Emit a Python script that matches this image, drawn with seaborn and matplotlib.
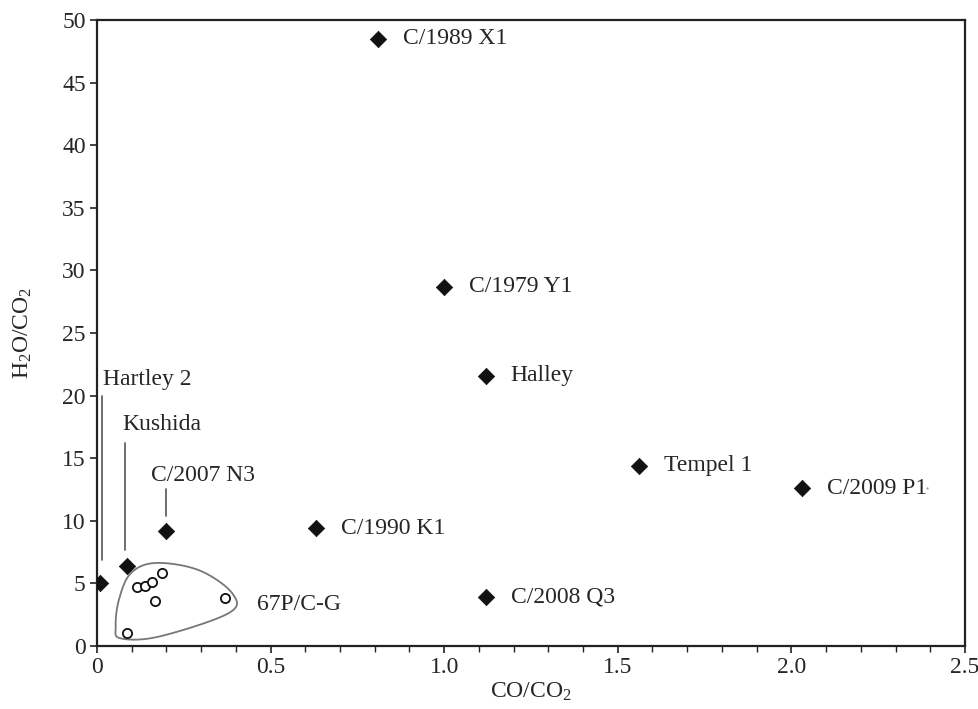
import numpy as np
import pandas as pd
import matplotlib
matplotlib.use("Agg")
import matplotlib.pyplot as plt
from matplotlib.ticker import MultipleLocator, FuncFormatter
from matplotlib.path import Path
from matplotlib.patches import PathPatch
import seaborn as sns

# comets with ratios (diamonds)
comets = ["C/1989 X1", "C/1979 Y1", "Halley", "Tempel 1", "C/2009 P1",
          "C/1990 K1", "C/2008 Q3", "C/2007 N3", "Kushida", "Hartley 2"]
co_co2 = [0.81, 1.00, 1.12, 1.56, 2.03, 0.63, 1.12, 0.20, 0.087, 0.01]
h2o_co2 = [48.5, 28.7, 21.6, 14.4, 12.6, 9.4, 3.9, 9.2, 6.4, 5.0]

# 67P/C-G measurements (open circles)
rosetta_co = [0.116, 0.138, 0.159, 0.188, 0.167, 0.368, 0.087]
rosetta_h2o = [4.7, 4.8, 5.1, 5.8, 3.6, 3.8, 1.05]

# outline drawn round the 67P group
hull_x = [0.097, 0.169, 0.294, 0.390, 0.380, 0.179, 0.068, 0.054, 0.063]
hull_y = [5.79, 6.63, 6.05, 4.20, 2.63, 0.75, 0.61, 1.54, 3.66]

sns.set_style("ticks")
plt.rcParams['font.family'] = ['Liberation Serif', 'DejaVu Serif']
plt.rcParams['mathtext.fontset'] = 'custom'
plt.rcParams['mathtext.rm'] = 'Liberation Serif'
plt.rcParams['mathtext.it'] = 'Liberation Serif:italic'

df = pd.DataFrame({"comet": comets, "co": co_co2, "h2o": h2o_co2})
df67 = pd.DataFrame({"co": rosetta_co, "h2o": rosetta_h2o})

fig = plt.figure(figsize=(9.79, 7.09), dpi=100)
ax = fig.add_axes([0.099, 0.0889, 0.8867, 0.8829])

sns.scatterplot(data=df, x="co", y="h2o", marker="D", s=70, color="#111111",
                edgecolor="#111111", linewidth=0.5, ax=ax, zorder=3)
sns.scatterplot(data=df67, x="co", y="h2o", marker="o", s=44, facecolor="white",
                edgecolor="#111111", linewidth=1.3, ax=ax, zorder=3)


# smooth closed curve (periodic Catmull-Rom)
def closed_curve(xs, ys, n=30):
    pts = np.column_stack([xs, ys])
    m = len(pts)
    out = []
    for i in range(m):
        p0, p1, p2, p3 = pts[i - 1], pts[i], pts[(i + 1) % m], pts[(i + 2) % m]
        for t in np.linspace(0, 1, n, endpoint=False):
            t2, t3 = t * t, t * t * t
            out.append(0.5 * ((2 * p1) + (-p0 + p2) * t + (2 * p0 - 5 * p1 + 4 * p2 - p3) * t2
                              + (-p0 + 3 * p1 - 3 * p2 + p3) * t3))
    out.append(out[0])
    return np.array(out)


curve = closed_curve(hull_x, hull_y)
ax.add_patch(PathPatch(Path(curve), facecolor="none", edgecolor="#777777", lw=1.3, zorder=2))

# point labels
fs = 17
for name, x, y in zip(comets, co_co2, h2o_co2):
    if name in ("C/2007 N3", "Kushida", "Hartley 2"):
        continue
    ax.annotate(name, (x, y), xytext=(18, 0), textcoords="offset points",
                va="center", ha="left", fontsize=fs)

# leader lines
ax.plot([0.015, 0.015], [6.85, 20.0], color="#555555", lw=1.2)
ax.plot([0.080, 0.080], [7.7, 16.2], color="#555555", lw=1.2)
ax.plot([0.20, 0.20], [10.4, 12.55], color="#555555", lw=1.2)
ax.text(0.017, 21.3, "Hartley 2", fontsize=fs, va="center", ha="left")
ax.text(0.072, 17.7, "Kushida", fontsize=fs, va="center", ha="left")
ax.text(0.156, 13.6, "C/2007 N3", fontsize=fs, va="center", ha="left")
ax.text(0.46, 3.3, "67P/C-G", fontsize=fs, va="center", ha="left")
ax.plot([2.39], [12.6], marker=".", ms=1.5, color="#aaaaaa")

ax.set_xlim(0, 2.5)
ax.set_ylim(0, 50)
ax.xaxis.set_major_locator(MultipleLocator(0.5))
ax.xaxis.set_minor_locator(MultipleLocator(0.1))
ax.yaxis.set_major_locator(MultipleLocator(5))
ax.xaxis.set_major_formatter(FuncFormatter(lambda v, p: "0" if v == 0 else f"{v:.1f}"))
ax.tick_params(axis="both", which="major", direction="out", length=5, width=1.2,
               labelsize=17, color="#222222", pad=3)
ax.tick_params(axis="x", which="minor", direction="out", length=4, width=1.0, color="#222222")
for sp in ax.spines.values():
    sp.set_linewidth(1.6)
    sp.set_color("#222222")

ax.set_xlabel(r"CO/CO$_2$", fontsize=17, labelpad=2)
ax.set_ylabel(r"H$_2$O/CO$_2$", fontsize=17, labelpad=20)

fig.savefig("out.png", dpi=100)
